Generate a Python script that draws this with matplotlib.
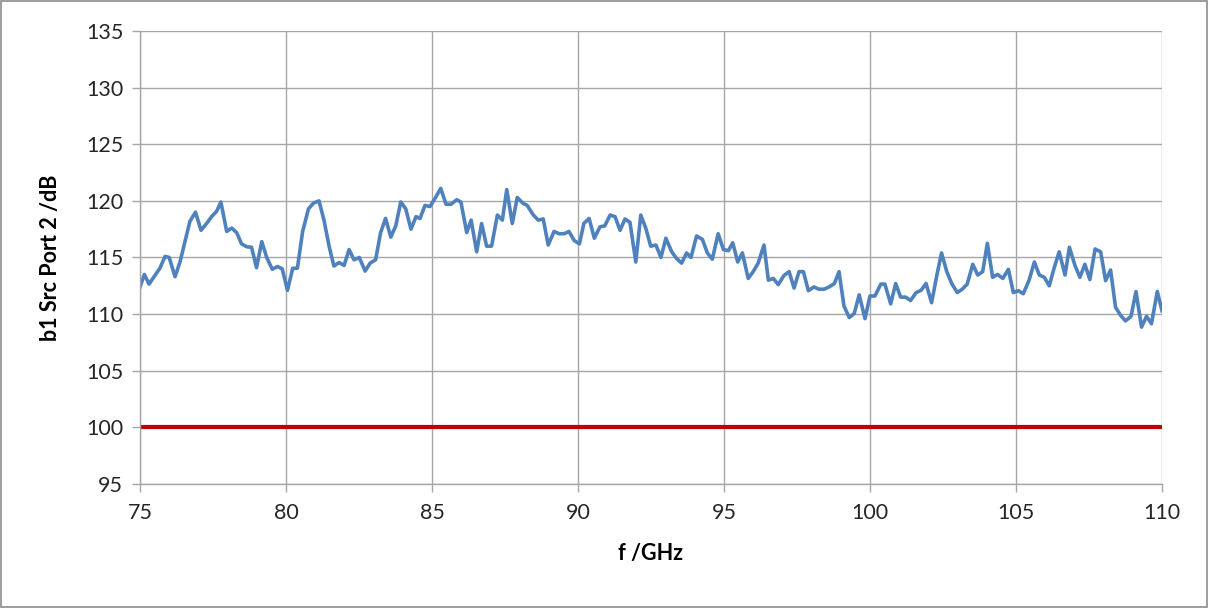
import matplotlib
matplotlib.use("Agg")
import matplotlib.pyplot as plt
from matplotlib.patches import Rectangle

# frequency points (GHz)
freq_ghz = [
    75.00, 75.15, 75.31, 75.51, 75.68, 75.86, 76.00, 76.20, 76.37, 76.54,
    76.71, 76.90, 77.09, 77.28, 77.45, 77.63, 77.77, 77.97, 78.14, 78.31,
    78.48, 78.65, 78.82, 78.99, 79.17, 79.34, 79.53, 79.71, 79.87, 80.05,
    80.23, 80.39, 80.57, 80.77, 80.94, 81.13, 81.30, 81.48, 81.64, 81.82,
    81.99, 82.16, 82.33, 82.51, 82.71, 82.88, 83.07, 83.24, 83.41, 83.59,
    83.76, 83.93, 84.10, 84.28, 84.45, 84.59, 84.76, 84.93, 85.10, 85.30,
    85.48, 85.65, 85.85, 85.99, 86.19, 86.34, 86.53, 86.70, 86.87, 87.04,
    87.24, 87.41, 87.56, 87.75, 87.92, 88.11, 88.26, 88.47, 88.64, 88.81,
    88.98, 89.18, 89.35, 89.53, 89.69, 89.87, 90.05, 90.20, 90.38, 90.56,
    90.75, 90.92, 91.10, 91.27, 91.44, 91.61, 91.78, 91.98, 92.15, 92.32,
    92.49, 92.67, 92.84, 93.01, 93.21, 93.38, 93.55, 93.72, 93.87, 94.06,
    94.26, 94.43, 94.60, 94.80, 94.98, 95.15, 95.30, 95.47, 95.63, 95.83,
    96.00, 96.17, 96.37, 96.52, 96.69, 96.86, 97.05, 97.23, 97.40, 97.57,
    97.72, 97.89, 98.08, 98.25, 98.43, 98.60, 98.78, 98.94, 99.11, 99.29,
    99.46, 99.63, 99.83, 100.00, 100.17, 100.37, 100.51, 100.71, 100.88, 101.05,
    101.22, 101.39, 101.58, 101.75, 101.92, 102.11, 102.28, 102.45, 102.63, 102.80,
    102.99, 103.16, 103.33, 103.52, 103.69, 103.86, 104.02, 104.20, 104.37, 104.55,
    104.74, 104.91, 105.08, 105.25, 105.45, 105.63, 105.80, 105.97, 106.14, 106.31,
    106.48, 106.68, 106.83, 107.02, 107.19, 107.36, 107.53, 107.71, 107.90, 108.07,
    108.24, 108.41, 108.58, 108.75, 108.94, 109.11, 109.30, 109.47, 109.64, 109.84,
    110.00,
]

# measured level b1, Src Port 2 (dB)
b1_db = [
    112.4, 113.5, 112.65, 113.4, 114.05, 115.1, 115.0, 113.3, 114.6, 116.4,
    118.2, 119.0, 117.4, 118.0, 118.6, 119.1, 119.9, 117.3, 117.6, 117.2,
    116.2, 115.95, 115.9, 114.1, 116.4, 115.0, 113.96, 114.2, 114.0, 112.1,
    114.05, 114.05, 117.3, 119.3, 119.8, 120.0, 118.3, 115.95, 114.25, 114.55,
    114.3, 115.7, 114.8, 115.0, 113.8, 114.5, 114.8, 117.2, 118.45, 116.8,
    117.8, 119.9, 119.3, 117.5, 118.6, 118.45, 119.6, 119.5, 120.2, 121.1,
    119.7, 119.7, 120.1, 119.9, 117.2, 118.3, 115.5, 118.0, 116.0, 116.0,
    118.75, 118.3, 121.0, 118.0, 120.3, 119.8, 119.6, 118.75, 118.3, 118.4,
    116.1, 117.3, 117.1, 117.1, 117.3, 116.5, 116.2, 118.0, 118.45, 116.7,
    117.7, 117.8, 118.75, 118.6, 117.4, 118.4, 118.1, 114.6, 118.75, 117.6,
    116.0, 116.1, 115.0, 116.7, 115.5, 114.9, 114.5, 115.4, 115.0, 116.9,
    116.6, 115.4, 114.85, 117.1, 115.7, 115.6, 116.3, 114.6, 115.4, 113.15,
    113.75, 114.5, 116.1, 113.0, 113.15, 112.6, 113.4, 113.75, 112.3, 113.75,
    113.75, 112.07, 112.4, 112.2, 112.2, 112.4, 112.7, 113.75, 110.7, 109.7,
    110.05, 111.7, 109.6, 111.6, 111.6, 112.65, 112.65, 110.9, 112.7, 111.5,
    111.5, 111.2, 111.9, 112.1, 112.7, 111.0, 113.3, 115.4, 113.75, 112.7,
    111.9, 112.2, 112.65, 114.4, 113.45, 113.75, 116.25, 113.25, 113.5, 113.15,
    113.95, 111.9, 112.07, 111.8, 113.0, 114.6, 113.45, 113.25, 112.5, 114.1,
    115.5, 113.45, 115.9, 114.3, 113.25, 114.4, 113.05, 115.75, 115.5, 112.95,
    113.9, 110.6, 109.9, 109.4, 109.8, 112.0, 108.85, 109.8, 109.15, 112.0,
    110.3,
]

limit_db = 100
x_ticks = [75, 80, 85, 90, 95, 100, 105, 110]
y_ticks = [95, 100, 105, 110, 115, 120, 125, 130, 135]

plt.rcParams["font.family"] = ["Lato", "DejaVu Sans"]

fig = plt.figure(figsize=(12.09, 6.09), dpi=100)
ax = fig.add_axes([0.1158, 0.2053, 0.8453, 0.7438])

ax.plot(freq_ghz, b1_db, color="#4F81BD", linewidth=2.6, solid_joinstyle="round")
ax.plot([x_ticks[0], x_ticks[-1]], [limit_db, limit_db], color="#C00000", linewidth=3.0)

ax.set_xlim(75, 110)
ax.set_ylim(95, 135)
ax.set_xticks(x_ticks)
ax.set_yticks(y_ticks)
ax.grid(True, color="#A6A6A6", linewidth=1.0)
ax.set_axisbelow(True)

for side in ["top", "right"]:
    ax.spines[side].set_visible(False)
for side in ["left", "bottom"]:
    ax.spines[side].set_color("#A6A6A6")
    ax.spines[side].set_linewidth(1.0)
ax.tick_params(axis="both", colors="#A6A6A6", labelcolor="#262626",
               labelsize=15.5, length=6, width=1.0, direction="out")
ax.tick_params(axis="x", pad=8)
ax.tick_params(axis="y", pad=6)

ax.set_xlabel("f /GHz", fontsize=15.5, fontweight="bold", labelpad=14)
ax.set_ylabel("b1 Src Port 2 /dB", fontsize=15.5, fontweight="bold", labelpad=18)

# grey frame around the whole chart area
fig.patches.append(Rectangle((0.001, 0.004), 0.997, 0.995, transform=fig.transFigure,
                             fill=False, edgecolor="#8C8C8C", linewidth=1.2))

plt.savefig("out.png", dpi=100)
